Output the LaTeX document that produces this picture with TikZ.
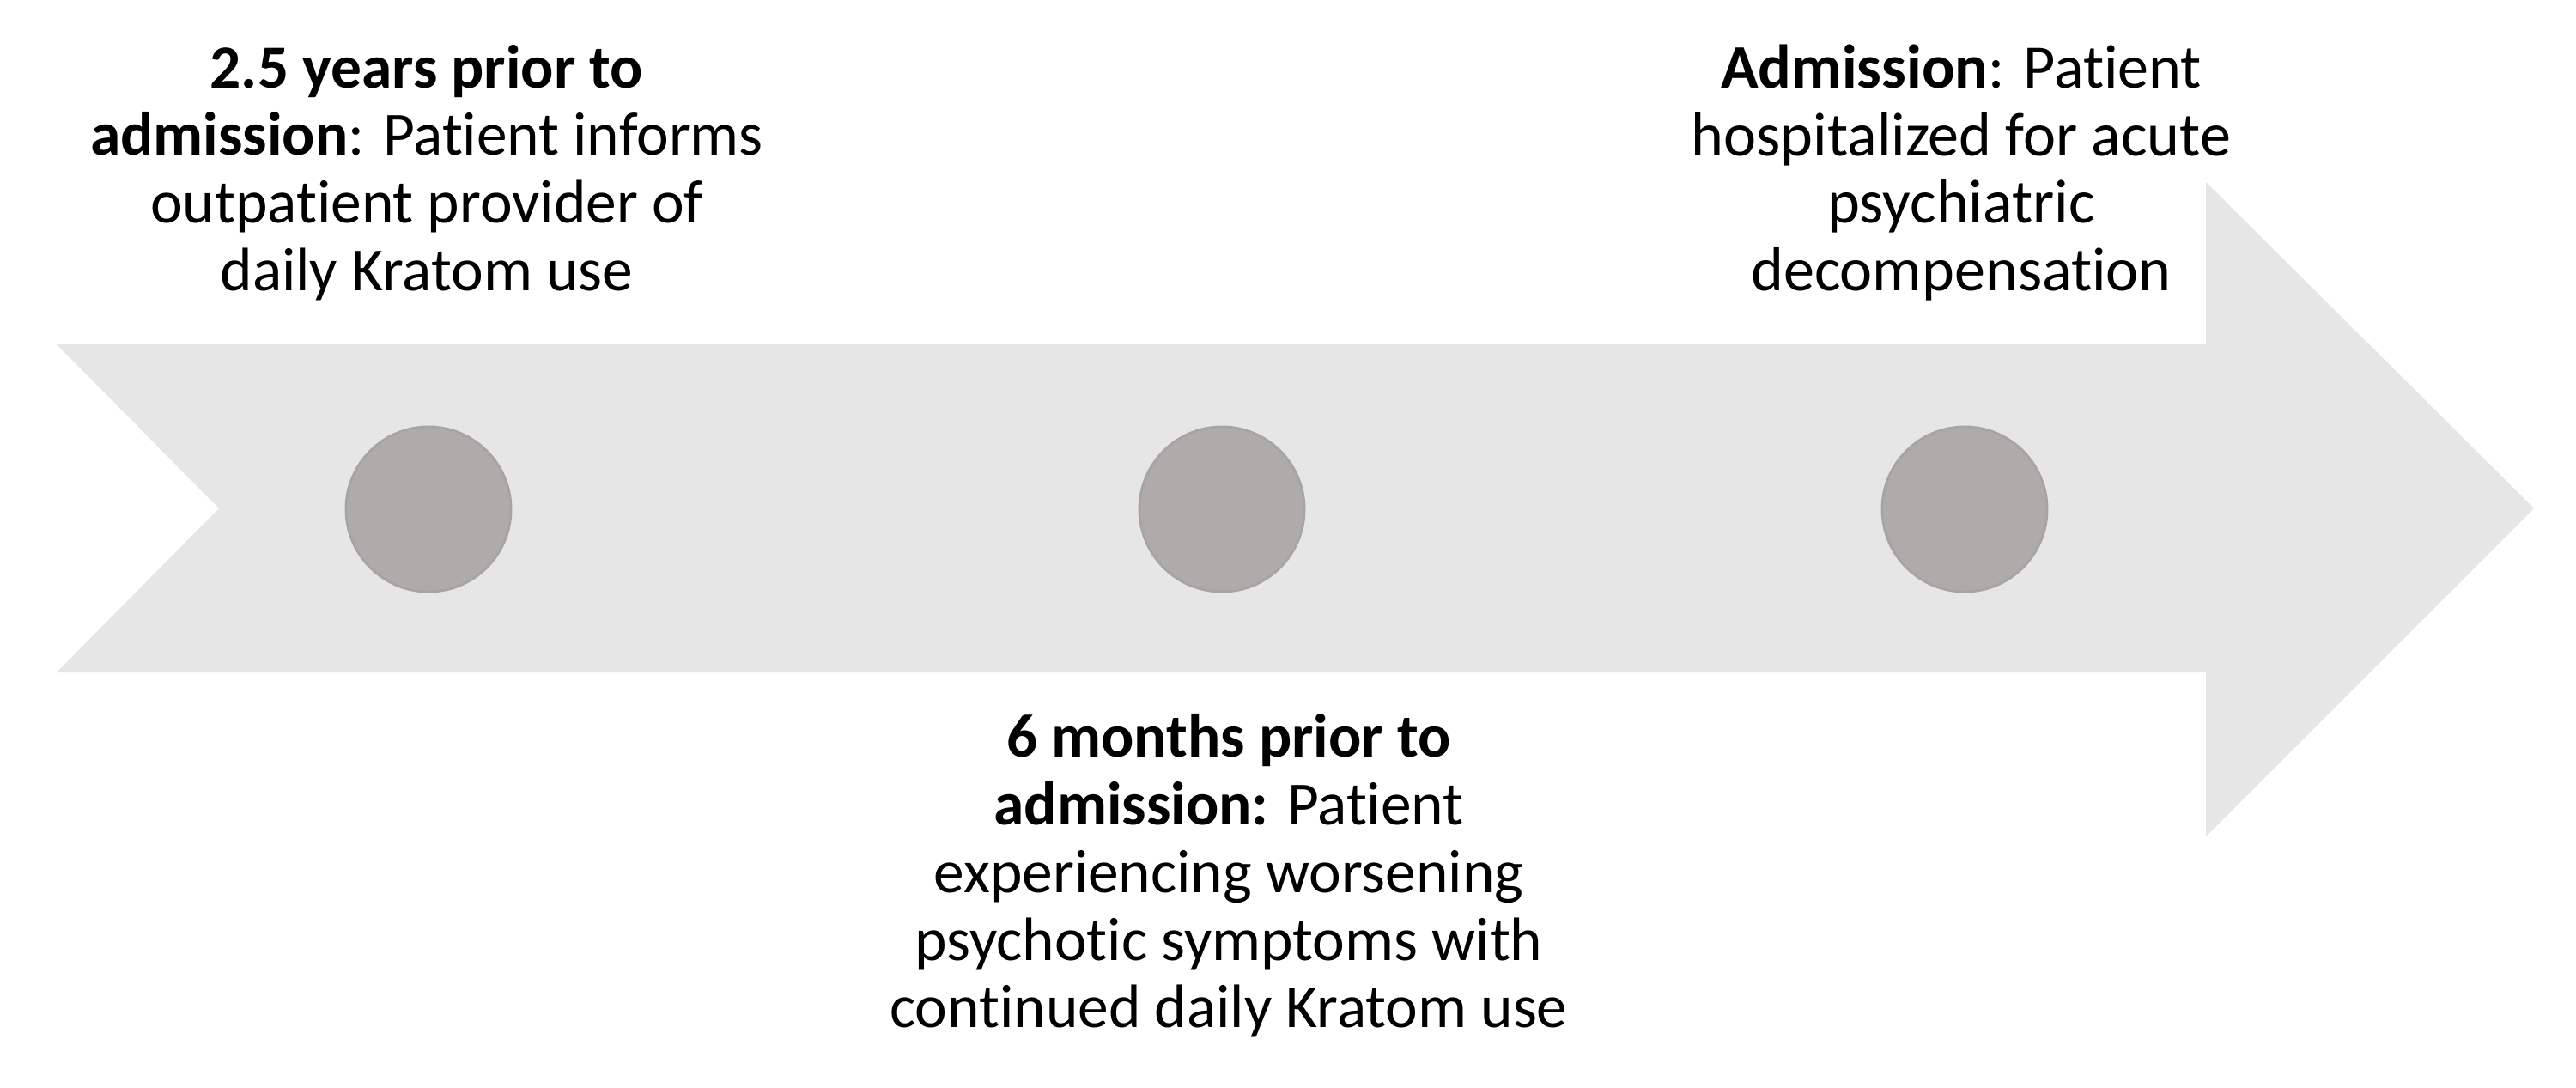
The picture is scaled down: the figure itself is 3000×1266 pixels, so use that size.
\documentclass[tikz,border=0pt]{standalone}
\usepackage{fontspec}
\setmainfont{Carlito}[Ligatures=NoCommon]
\definecolor{arrowgray}{HTML}{E6E6E6}
\definecolor{dotgray}{HTML}{AFABAB}
\definecolor{dotedge}{HTML}{A7A4A4}
\begin{document}
\begin{tikzpicture}[x=0.01cm,y=-0.01cm,
  dot/.style={circle,fill=dotgray,draw=dotedge,line width=0.8pt,minimum size=1.92cm,inner sep=0pt},
  lbl/.style={align=center,inner sep=0pt,font=\fontsize{20.3pt}{22.4pt}\selectfont},
  lblbig/.style={align=center,inner sep=0pt,font=\fontsize{20.5pt}{22.4pt}\selectfont}]
\useasboundingbox (0,0) rectangle (3000,1266);
\fill[white] (0,0) rectangle (3000,1266);
\fill[arrowgray] (66,401) -- (2569,401) -- (2569,212) -- (2951,592) -- (2569,974) -- (2569,783) -- (66,783) -- (255,592) -- cycle;
\node[dot] (d1) at (499,593) {};
\node[dot] (d2) at (1423,593) {};
\node[dot] (d3) at (2288,593) {};
\node[lbl] (t1) at (497,201) {\textbf{2.5 years prior to}\\\textbf{admission}: Patient informs\\outpatient provider of\\daily Kratom use};
\node[lbl] (t2) at (1431,1020) {\textbf{6 months prior to}\\\textbf{admission:} Patient\\experiencing worsening\\psychotic symptoms with\\continued daily Kratom use};
\node[lblbig] (t3) at (2284,201) {\textbf{Admission}: Patient\\hospitalized for acute\\psychiatric\\decompensation};
\end{tikzpicture}
\end{document}
